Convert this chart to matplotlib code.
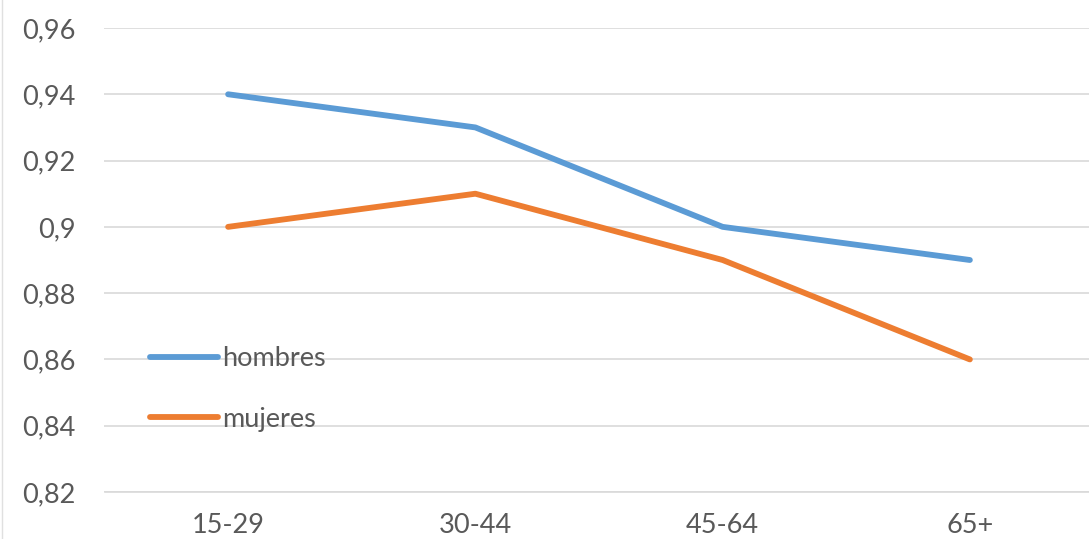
import numpy as np
import matplotlib
matplotlib.use("Agg")
import matplotlib.pyplot as plt

# data
grupos = ["15-29", "30-44", "45-64", "65+"]
hombres = [0.94, 0.93, 0.90, 0.89]
mujeres = [0.90, 0.91, 0.89, 0.86]
yticks = [0.82, 0.84, 0.86, 0.88, 0.90, 0.92, 0.94, 0.96]
ytick_labels = ["0,82", "0,84", "0,86", "0,88", "0,9", "0,92", "0,94", "0,96"]

plt.rcParams["font.family"] = ["Lato", "DejaVu Sans"]
gris = "#595959"
fs = 19.5

fig = plt.figure(figsize=(10.89, 5.39), dpi=100)
ax = fig.add_axes([104.5 / 1089, 1 - 492 / 539, 989 / 1089, 464 / 539])

x = np.arange(len(grupos))
ax.plot(x, hombres, color="#5B9BD5", lw=4.2, solid_capstyle="round", label="hombres")
ax.plot(x, mujeres, color="#ED7D31", lw=4.2, solid_capstyle="round", label="mujeres")

ax.set_xlim(-0.5, 3.5)
ax.set_ylim(0.82, 0.96)
ax.set_xticks(x)
ax.set_xticklabels(grupos)
ax.set_yticks(yticks)
ax.set_yticklabels(ytick_labels)
ax.tick_params(axis="both", length=0, labelsize=fs, labelcolor=gris)
ax.tick_params(axis="y", pad=21)
ax.tick_params(axis="x", pad=15)

ax.grid(axis="y", color="#D9D9D9", lw=1.2)
ax.set_axisbelow(True)
for s in ["top", "right", "left"]:
    ax.spines[s].set_visible(False)
ax.spines["bottom"].set_color("#D9D9D9")
ax.spines["bottom"].set_linewidth(1.2)

leg = ax.legend(loc="center left", bbox_to_anchor=(150 / 1089, 1 - 389 / 539),
                bbox_transform=fig.transFigure, frameon=False, fontsize=fs,
                handlelength=2.5, handletextpad=0.15, labelspacing=1.3,
                borderpad=0, borderaxespad=0)
for t in leg.get_texts():
    t.set_color(gris)

# faint frame line at the left edge
fig.add_artist(plt.Line2D([2 / 1089, 2 / 1089], [0, 1], color="#E0E0E0", lw=1,
                          transform=fig.transFigure))

fig.savefig("out.png", dpi=100)
